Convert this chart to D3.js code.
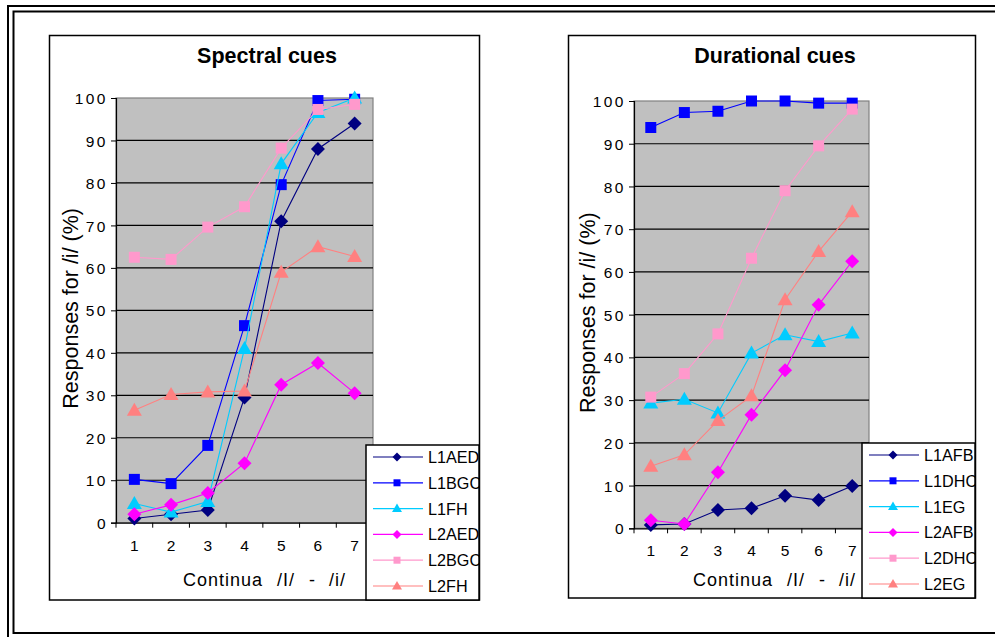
<!DOCTYPE html>
<html>
<head>
<meta charset="utf-8">
<script src="https://cdn.jsdelivr.net/npm/d3@7"></script>
<style>
  html, body { margin: 0; padding: 0; background: #fff; }
  svg { display: block; font-family: "Liberation Sans", Arial, sans-serif; }
</style>
</head>
<body>
<svg id="fig" width="995" height="637"></svg>
<script>
// Continuum steps 1..7 (/I/ to /i/)
const categories = [1, 2, 3, 4, 5, 6, 7];
const yTicks = [0, 10, 20, 30, 40, 50, 60, 70, 80, 90, 100];
const xTitleParts = ["Continua", "/I/", "-", "/i/"];

// Spectral cues: % /i/ responses
const spectralNames = ["L1AED", "L1BGC", "L1FH", "L2AED", "L2BGC", "L2FH"];
const L1AED = [1, 2, 3, 29.5, 71, 88, 94];
const L1BGC = [10.2, 9.2, 18.2, 46.4, 79.6, 99.4, 99.7];
const L1FH  = [4.5, 2.5, 5, 41, 84.5, 96.6, 100];
const L2AED = [2, 4.2, 7, 14, 32.5, 37.6, 30.5];
const L2BGC = [62.5, 62, 69.6, 74.4, 88.2, 97.3, 98.5];
const L2FH  = [26.5, 30.2, 30.8, 31, 59, 65, 62.7];

// Durational cues: % /i/ responses
const durationalNames = ["L1AFB", "L1DHC", "L1EG", "L2AFB", "L2DHC", "L2EG"];
const L1AFB = [0.8, 1, 4.3, 4.7, 7.6, 6.6, 9.9];
const L1DHC = [93.8, 97.3, 97.6, 100, 100, 99.5, 99.5];
const L1EG  = [29.3, 30.2, 27, 41, 45.3, 43.7, 45.7];
const L2AFB = [1.9, 1, 13.1, 26.6, 37, 52.3, 62.5];
const L2DHC = [30.7, 36.2, 45.5, 63.2, 79, 89.5, 98.1];
const L2EG  = [14.5, 17.2, 25.2, 31, 53.5, 64.8, 74.1];

// Series styling shared by both panels (same order in each)
const seriesColors  = ["#000080", "#0000ff", "#00ccff", "#ff00ff", "#ff99cc", "#ff8080"];
const seriesMarkers = ["diamond", "square", "triangle", "diamond", "square", "triangle"];

const svg = d3.select("#fig");

// Double page frame
svg.append("rect").attr("x", 8).attr("y", 6).attr("width", 1100).attr("height", 1100)
  .attr("fill", "none").attr("stroke", "#000").attr("stroke-width", 2);
svg.append("rect").attr("x", 13.5).attr("y", 11.5).attr("width", 1100).attr("height", 621.5)
  .attr("fill", "none").attr("stroke", "#000").attr("stroke-width", 2);

function markerPath(type, big) {
  if (type === "diamond") {
    const r = big ? 7 : 4.5;
    return `M0,${-r}L${r},0L0,${r}L${-r},0Z`;
  }
  if (type === "square") {
    const h = big ? 5.5 : 3.5;
    return `M${-h},${-h}H${h}V${h}H${-h}Z`;
  }
  const w = big ? 7.5 : 5, t = big ? 7.5 : 5, b = big ? 5.5 : 3.5;
  return `M0,${-t}L${w},${b}L${-w},${b}Z`;
}

function drawPanel(cfg) {
  const g = svg.append("g");
  const box = cfg.box, plot = cfg.plot;

  // Chart area box
  g.append("rect").attr("x", box.x).attr("y", box.y).attr("width", box.w).attr("height", box.h)
    .attr("fill", "#fff").attr("stroke", "#000").attr("stroke-width", 1.5);

  // Title
  g.append("text").attr("x", cfg.titleX).attr("y", box.y + 27)
    .attr("text-anchor", "middle").attr("font-size", 21.5).attr("font-weight", "bold")
    .text(cfg.title);

  const x = d3.scaleBand().domain(categories).range([plot.x0, plot.x1]);
  const y = d3.scaleLinear().domain([0, 100]).range([plot.y0, plot.y1]);

  // Plot area
  g.append("rect").attr("x", plot.x0).attr("y", y(100)).attr("width", plot.x1 - plot.x0)
    .attr("height", y(0) - y(100)).attr("fill", "#c0c0c0").attr("stroke", "#808080").attr("stroke-width", 1.2);

  // Gridlines
  g.append("g").selectAll("line").data(yTicks.filter(d => d > 0 && d < 100)).join("line")
    .attr("x1", plot.x0).attr("x2", plot.x1)
    .attr("y1", d => y(d)).attr("y2", d => y(d))
    .attr("stroke", "#000").attr("stroke-width", 1.2);

  // Y axis
  const yAxis = d3.axisLeft(y).tickValues(yTicks).tickSize(5).tickPadding(3);
  const ya = g.append("g").attr("transform", `translate(${plot.x0},0)`).call(yAxis);
  ya.attr("font-size", null).attr("font-family", null);
  ya.select(".domain").attr("stroke", "#000").attr("stroke-width", 1.2);
  ya.selectAll(".tick line").attr("stroke", "#000");
  ya.selectAll(".tick text").attr("font-size", 15.5).attr("letter-spacing", 2.5)
    .attr("fill", "#000").attr("dy", "0.36em");

  // X axis
  const xAxis = d3.axisBottom(x).tickSize(0).tickPadding(17);
  const xa = g.append("g").attr("transform", `translate(0,${y(0)})`).call(xAxis);
  xa.attr("font-size", null).attr("font-family", null);
  xa.select(".domain").attr("stroke", "#000").attr("stroke-width", 1.2);
  xa.selectAll(".tick text").attr("font-size", 15.5).attr("fill", "#000");
  // Tick marks on category boundaries
  xa.append("g").selectAll("line").data(d3.range(categories.length + 1)).join("line")
    .attr("x1", i => plot.x0 + i * x.step()).attr("x2", i => plot.x0 + i * x.step())
    .attr("y1", 0).attr("y2", 5).attr("stroke", "#000");

  // Axis titles
  g.append("text")
    .attr("transform", `translate(${cfg.yTitleX},${(y(0) + y(100)) / 2 - 2}) rotate(-90)`)
    .attr("text-anchor", "middle").attr("font-size", 21.5)
    .text("Responses for /i/ (%)");
  const xOffsets = [0, 94, 126, 146];
  const xt = g.append("text").attr("y", 586).attr("font-size", 18).attr("letter-spacing", 1);
  xTitleParts.forEach((p, i) => {
    xt.append("tspan").attr("x", cfg.xTitleX + xOffsets[i]).text(p);
  });

  // Series
  const line = d3.line().x((d, i) => x(categories[i]) + x.bandwidth() / 2).y(d => y(d));
  cfg.series.forEach((vals, si) => {
    const col = seriesColors[si];
    const sg = g.append("g");
    sg.append("path").attr("d", line(vals)).attr("fill", "none")
      .attr("stroke", col).attr("stroke-width", 1.1);
    sg.selectAll("path.m").data(vals).join("path").attr("class", "m")
      .attr("transform", (d, i) => `translate(${x(categories[i]) + x.bandwidth() / 2},${y(d)})`)
      .attr("d", markerPath(seriesMarkers[si], true))
      .attr("fill", col);
  });

  // Legend
  const lg = cfg.legend;
  const clipId = "clip-" + cfg.id;
  g.append("clipPath").attr("id", clipId).append("rect")
    .attr("x", lg.x).attr("y", lg.y).attr("width", lg.w).attr("height", lg.h);
  const leg = g.append("g");
  leg.append("rect").attr("x", lg.x).attr("y", lg.y).attr("width", lg.w).attr("height", lg.h)
    .attr("fill", "#fff").attr("stroke", "#000").attr("stroke-width", 1.5);
  const items = leg.append("g").attr("clip-path", `url(#${clipId})`);
  cfg.names.forEach((name, si) => {
    const ry = lg.y + 12 + si * 25.8;
    const col = seriesColors[si];
    items.append("line").attr("x1", lg.x + 7).attr("x2", lg.x + 57)
      .attr("y1", ry).attr("y2", ry).attr("stroke", col).attr("stroke-width", 1.2);
    items.append("path").attr("transform", `translate(${lg.x + 31},${ry})`)
      .attr("d", markerPath(seriesMarkers[si], false)).attr("fill", col);
    items.append("text").attr("x", lg.x + 62).attr("y", ry + 6)
      .attr("font-size", 16.2).text(name);
  });
}

drawPanel({
  id: "spectral",
  title: "Spectral cues",
  names: spectralNames,
  series: [L1AED, L1BGC, L1FH, L2AED, L2BGC, L2FH],
  box: { x: 49.5, y: 35.5, w: 430, h: 564.5 },
  plot: { x0: 116, x1: 373, y0: 522.7, y1: 98 },
  titleX: 267,
  yTitleX: 78,
  xTitleX: 183,
  legend: { x: 366, y: 445, w: 113, h: 155 }
});

drawPanel({
  id: "durational",
  title: "Durational cues",
  names: durationalNames,
  series: [L1AFB, L1DHC, L1EG, L2AFB, L2DHC, L2EG],
  box: { x: 568.5, y: 35.5, w: 407, h: 562.5 },
  plot: { x0: 634, x1: 869, y0: 528.3, y1: 101 },
  titleX: 775,
  yTitleX: 595,
  xTitleX: 693,
  legend: { x: 862, y: 443, w: 113, h: 155 }
});
</script>
</body>
</html>
